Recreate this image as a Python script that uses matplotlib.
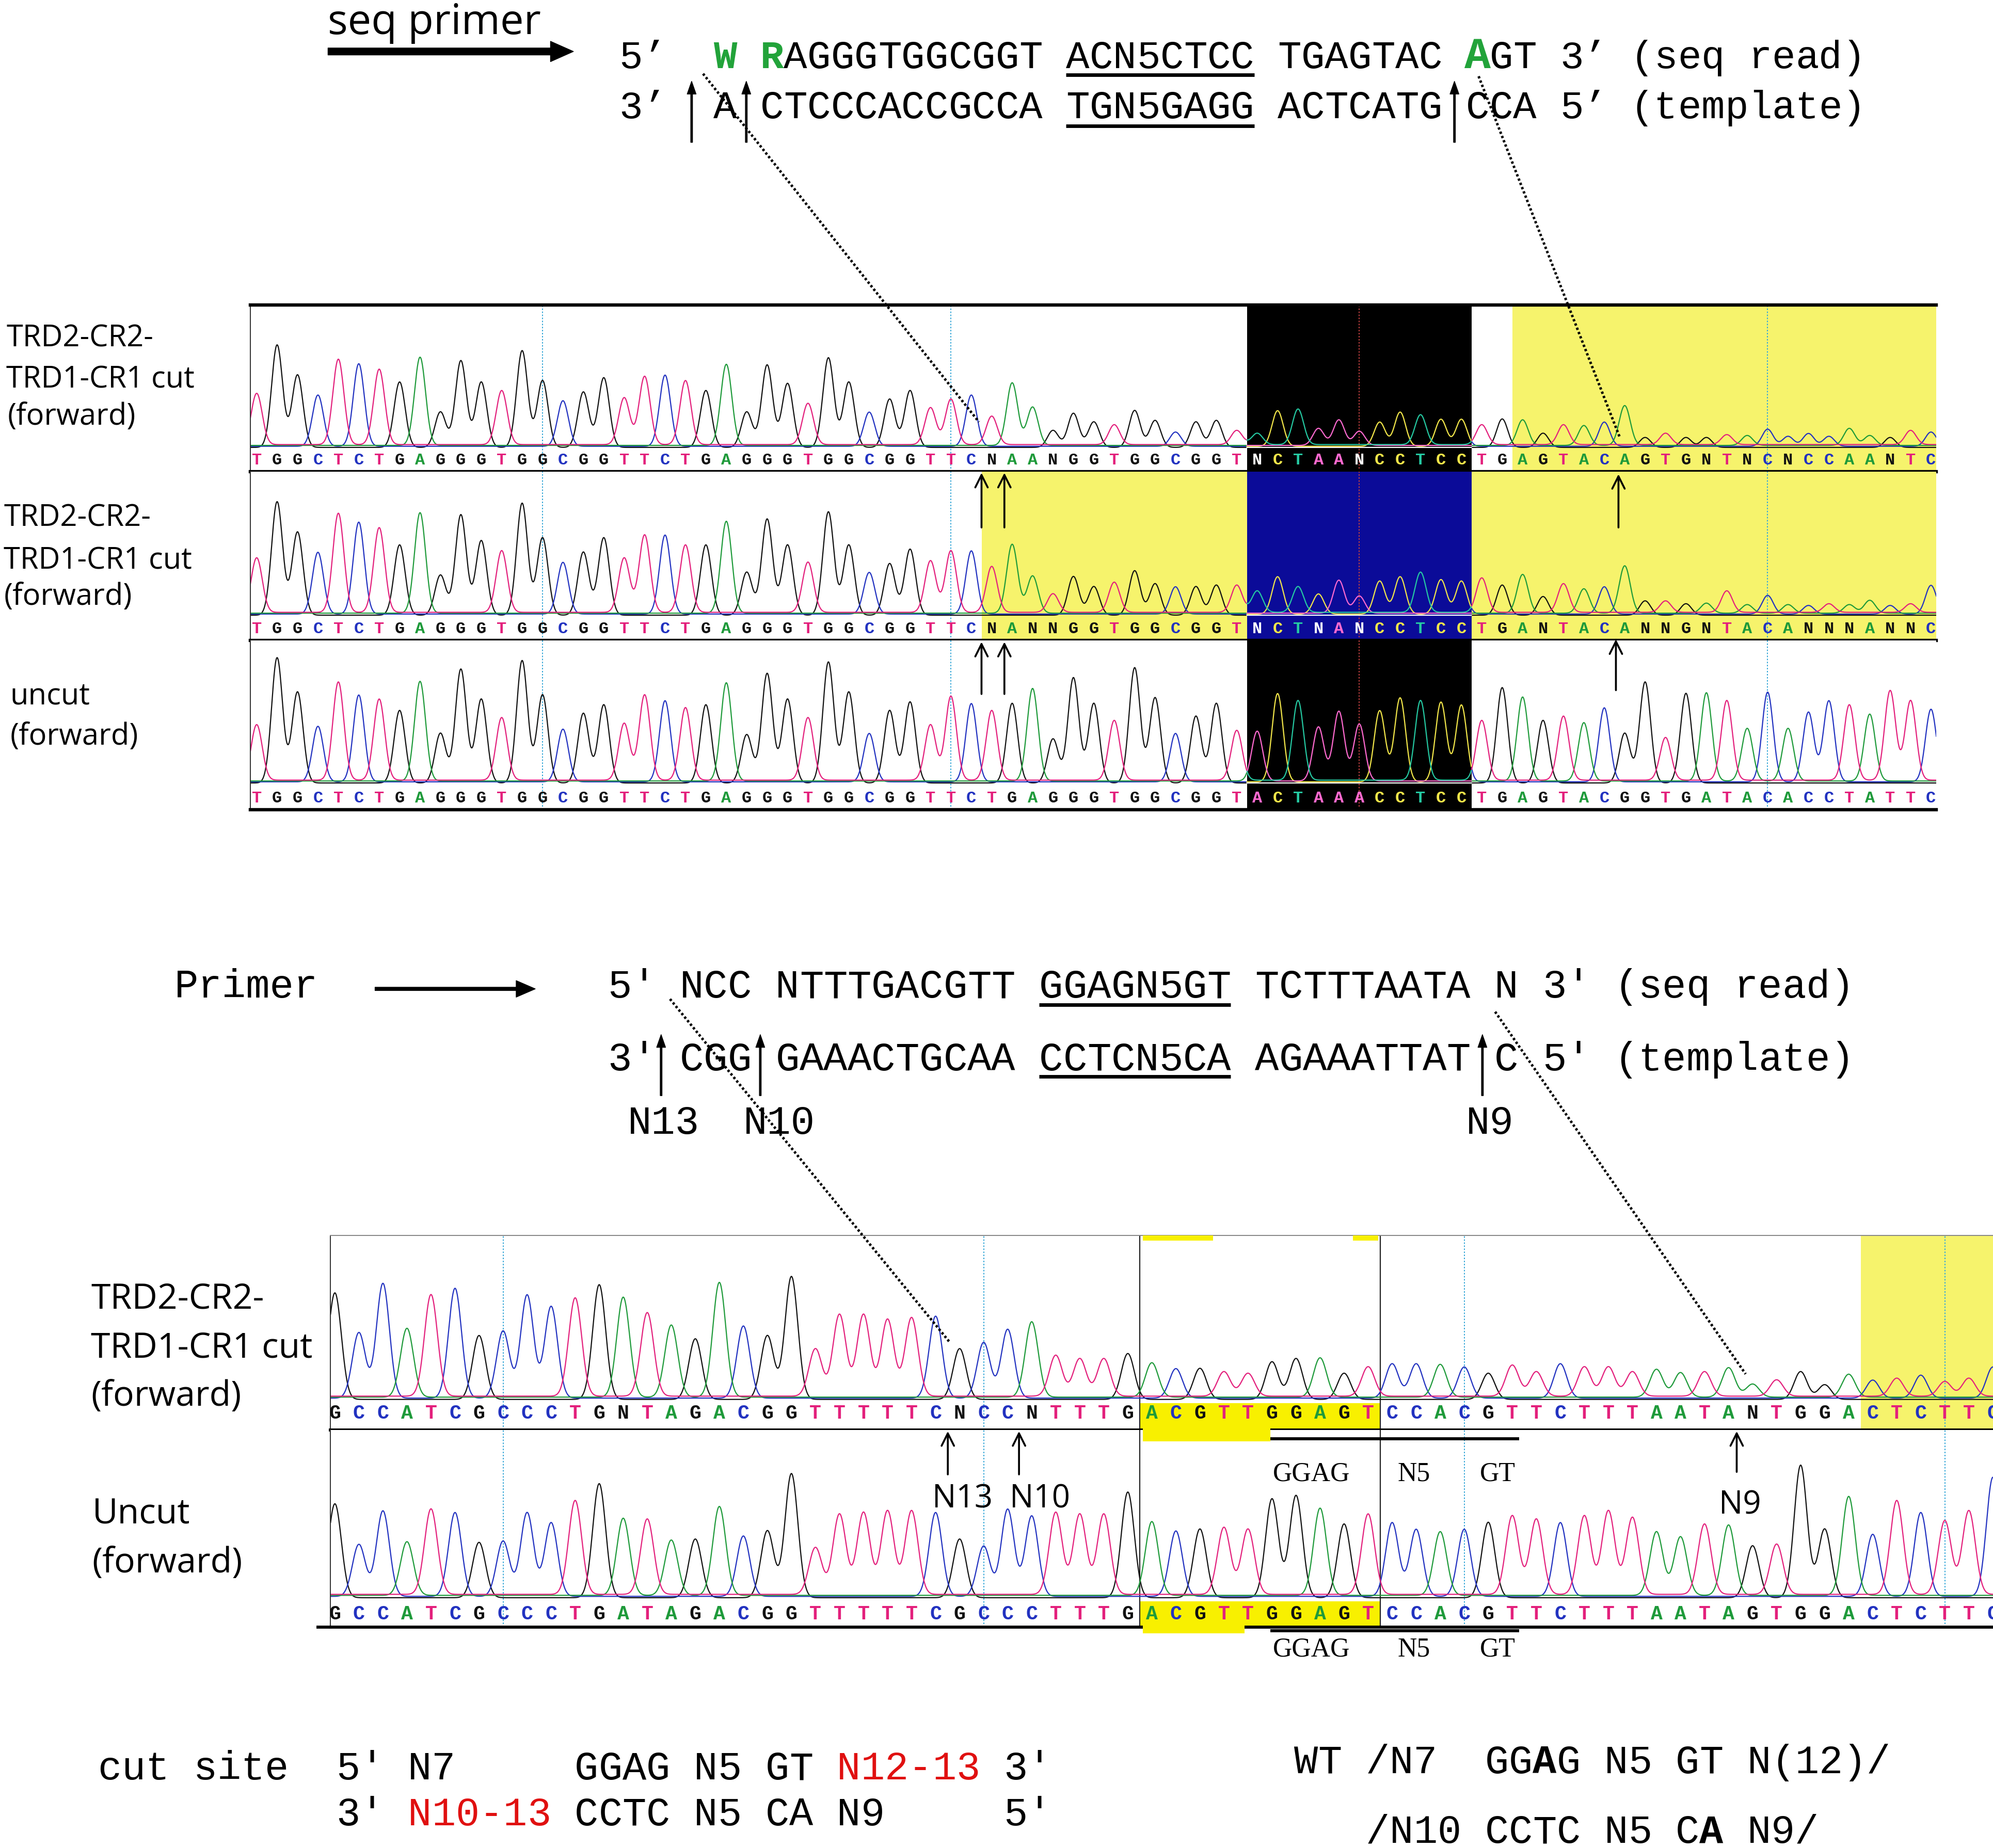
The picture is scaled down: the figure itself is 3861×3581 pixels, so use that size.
import numpy as np
import matplotlib
matplotlib.use("Agg")
import matplotlib.pyplot as plt

# layout is worked out on a 1568-unit wide page, then scaled to the output size
S = 3862 / 1568
W, H = 1568, 3581 / S


def pt(u):
    """layout units -> points (dpi 100)"""
    return u * S * 0.72


# ---------------------------------------------------------------- data
top_head = "TGGCTCTGAGGGTGGCGGTTCTGAGGGTGGCGGTTC"
cut1_seq = top_head + "NAANGGTGGCGGT" + "NCTAANCCTCC" + "TGAGTACAGTGNTNCNCCAANTC"
cut2_seq = top_head + "NANNGGTGGCGGT" + "NCTNANCCTCC" + "TGANTACANNGNTACANNNANNC"
uncut_seq = top_head + "TGAGGGTGGCGGT" + "ACTAAACCTCC" + "TGAGTACGGTGATACACCTATTC"

# peak heights, % of the trace box
cut1_h = [36, 72, 51, 36, 60, 58, 53, 46, 62, 25, 61, 46, 38, 68, 47, 32, 39, 49, 33, 48,
          50, 45, 40, 57, 25, 58, 45, 29, 63, 46, 24, 34, 40, 26, 32, 36,
          20, 44, 27, 12, 24, 18, 14, 26, 19, 10, 18, 19, 10,
          8, 25, 25, 12, 18, 10, 17, 24, 21, 19, 19,
          14, 20, 18, 10, 14, 14, 17, 28, 7, 8, 7, 7, 7, 7, 12, 7, 9, 7, 12, 7, 7, 10, 10]
cut2_h = [38, 79, 58, 43, 69, 64, 59, 49, 70, 28, 70, 52, 43, 78, 54, 36, 44, 54, 38, 54,
          55, 47, 49, 64, 30, 67, 49, 35, 72, 49, 29, 36, 46, 36, 43, 44,
          32, 48, 26, 13, 27, 20, 21, 31, 22, 19, 20, 21, 19,
          15, 26, 18, 14, 23, 12, 23, 26, 28, 24, 23,
          24, 21, 27, 13, 20, 17, 19, 33, 10, 8, 8, 7, 15, 6, 13, 6, 6, 6, 6, 9, 6, 6, 20]
uncut_h = [39, 88, 64, 39, 69, 61, 57, 51, 70, 35, 80, 59, 44, 86, 62, 37, 49, 55, 40, 60,
           57, 51, 55, 69, 34, 77, 59, 44, 85, 64, 34, 51, 57, 39, 59, 55,
           49, 56, 65, 31, 74, 56, 42, 81, 60, 34, 47, 56, 35,
           35, 62, 56, 38, 49, 40, 50, 59, 56, 56, 54,
           42, 67, 59, 44, 45, 41, 52, 35, 71, 30, 63, 62, 56, 37, 63, 37, 49, 57, 53, 47, 63, 56, 51]
# channel of the dominant peak under each N call, in order
cut1_npk = "TGTAGACG"
cut2_npk = "TATTCAGGTACTACT"

low_cut_seq = "GCCATCGCCCTGNTAGACGGTTTTTCNCCNTTTG" + "ACGTTGGAGT" + "CCACGTTCTTTAATANTGGACTCTTC"
low_wt_seq = "GCCATCGCCCTGATAGACGGTTTTTCGCCCTTTG" + "ACGTTGGAGT" + "CCACGTTCTTTAATAGTGGACTCTTC"
low_cut_h = [65, 40, 70, 42, 62, 67, 39, 41, 63, 56, 60, 70, 61, 51, 44, 37, 70, 44, 39, 75,
             29, 50, 50, 47, 48, 50, 31, 34, 42, 46, 25, 23, 23, 28,
             21, 18, 19, 15, 14, 23, 25, 24, 16, 18,
             21, 21, 20, 19, 16, 19, 15, 21, 18, 18, 15, 17, 15, 15, 18, 8, 10, 17, 9, 14,
             11, 11, 14, 9, 11, 19]
low_wt_h = [56, 31, 51, 32, 51, 50, 33, 33, 50, 44, 56, 68, 46, 45, 33, 35, 53, 36, 40, 74,
            28, 48, 49, 50, 50, 50, 35, 30, 52, 48, 49, 48, 48, 63,
            44, 39, 41, 40, 39, 59, 61, 52, 44, 48,
            44, 40, 38, 40, 45, 47, 45, 44, 47, 50, 46, 38, 35, 42, 42, 31, 30, 79, 41, 59,
            37, 56, 50, 44, 50, 71]
low_cut_npk = "AGAA"

top_marks = [14, 34, 54, 74]
low_marks = [7, 27, 47, 67]

# ---------------------------------------------------------------- style
BASE_COL = {'A': '#1e9a3a', 'C': '#2232c0', 'G': '#111111', 'T': '#e3207c', 'N': '#111111'}
DARK_COL = {'A': '#ff6ad0', 'C': '#f2e64a', 'G': '#ffffff', 'T': '#25c9a2', 'N': '#ffffff'}
OFFSET = {'G': 0.0, 'C': 0.008, 'A': 0.014, 'T': 0.02}
YELLOW = '#f6f36c'
BRIGHT = '#f8f000'
MONO = 'Liberation Mono'
SANS = 'Open Sans'
SERIF = 'Liberation Serif'

fig = plt.figure(figsize=(38.62, 35.81), dpi=100)


def chrom(box, seq, hts, npk, first_x, step, shades=(), dark=(), marks=(), red=(),
          rules=(), fsize=13, sigma=0.27):
    left, right, top, base, row, bottom = box
    ax = fig.add_axes([left / W, 1 - bottom / H, (right - left) / W, (bottom - top) / H])
    x0, x1 = (left - first_x) / step, (right - first_x) / step
    y0 = -(bottom - base) / (base - top)
    ax.set_xlim(x0, x1)
    ax.set_ylim(y0, 1)
    ax.set_xticks([])
    ax.set_yticks([])
    for i0, i1, col, ymax in shades:
        ax.axvspan(i0 - 0.5, i1 + 0.5, ymin=0, ymax=ymax, color=col, lw=0, zorder=0)
    for m in marks:
        c = '#c04040' if m in red else '#38a8d8'
        ax.axvline(m, color=c, lw=pt(0.8), ls=(0, (1.5, 1.5)), zorder=1)
    for r in rules:
        ax.axvline(r, color='#222222', lw=pt(0.9), zorder=1)

    chans = []
    it = iter(npk)
    for b in seq:
        chans.append(next(it) if b == 'N' else b)
    idx = np.arange(len(seq))
    hts = np.asarray(hts) / 100.0
    xs = np.linspace(x0, x1, 5000)
    in_dark = np.zeros_like(xs, dtype=bool)
    for i0, i1 in dark:
        in_dark |= (xs >= i0 - 0.5) & (xs <= i1 + 0.5)
    for c in 'GCAT':
        sel = np.array([ch == c for ch in chans])
        ys = np.zeros_like(xs) + OFFSET[c]
        for i, h in zip(idx[sel], hts[sel]):
            ys += h * np.exp(-(xs - i) ** 2 / (2 * sigma ** 2))
        ax.plot(xs, np.where(in_dark, np.nan, ys), color=BASE_COL[c], lw=pt(0.9), zorder=2)
        if dark:
            ax.plot(xs, np.where(in_dark, ys, np.nan), color=DARK_COL[c], lw=pt(0.9), zorder=2)

    ly = (base - row) / (base - top)
    for i, b in enumerate(seq):
        d = any(i0 <= i <= i1 for i0, i1 in dark)
        col = (DARK_COL if d else BASE_COL)[b]
        ax.text(i, ly, b, color=col, ha='center', va='center', family=MONO,
                fontsize=pt(fsize), weight='bold', zorder=3, clip_on=True)
    for s in ax.spines.values():
        s.set_visible(False)
    return ax


def thick(ax, side, w, col='k'):
    ax.spines[side].set_visible(True)
    ax.spines[side].set_linewidth(pt(w))
    ax.spines[side].set_color(col)


# ---------------------------------------------------------------- top chromatograms
TX0, TDX = 201.9, 16.06
p1 = chrom((197, 1523, 240, 352, 362, 371), cut1_seq, cut1_h, cut1_npk, TX0, TDX,
           shades=[(49, 59, 'black', 1), (62, 83, YELLOW, 1)], dark=[(49, 59)],
           marks=top_marks, red=[54])
p2 = chrom((197, 1523, 371, 484, 495, 504), cut2_seq, cut2_h, cut2_npk, TX0, TDX,
           shades=[(36, 48, YELLOW, 1), (49, 59, '#0b0b98', 1), (60, 83, YELLOW, 1)],
           dark=[(49, 59)], marks=top_marks, red=[54])
p3 = chrom((197, 1523, 504, 616, 628, 637), uncut_seq, uncut_h, "", TX0, TDX,
           shades=[(49, 59, 'black', 1)], dark=[(49, 59)], marks=top_marks, red=[54])
thick(p1, 'top', 2.6)
for a in (p1, p2, p3):
    thick(a, 'bottom', 2.6)
    thick(a, 'left', 0.8, '#333333')

# ---------------------------------------------------------------- lower chromatograms
LX0, LDX = 263.4, 18.9
row_a = (1125 - 1104) / (1125 - 972)
row_b = (1280 - 1260) / (1280 - 1125)
pa = chrom((260, W, 972, 1101, 1112, 1125), low_cut_seq, low_cut_h, low_cut_npk, LX0, LDX,
           shades=[(34, 43, BRIGHT, row_a), (64, 70, YELLOW, 1)],
           marks=low_marks, rules=[33.5, 43.5], fsize=15.5)
pb = chrom((260, W, 1125, 1257, 1270, 1280), low_wt_seq, low_wt_h, "", LX0, LDX,
           shades=[(34, 43, BRIGHT, row_b)],
           marks=low_marks, rules=[33.5, 43.5], fsize=15.5)
thick(pa, 'top', 0.8, '#888888')
for a in (pa, pb):
    thick(a, 'bottom', 2.4)
    thick(a, 'left', 0.8, '#333333')

# ---------------------------------------------------------------- overlay for text & arrows
ov = fig.add_axes([0, 0, 1, 1])
ov.set_xlim(0, W)
ov.set_ylim(H, 0)
ov.axis('off')
ov.set_zorder(10)


def mono(x0, y, text, cw, size=None, colors=None, bold=(), big=()):
    size = size or cw / 0.6
    for i, ch in enumerate(text):
        if ch == ' ':
            continue
        col = (colors or {}).get(i, 'k')
        ov.text(x0 + (i + 0.5) * cw, y, ch, ha='center', va='baseline', family=MONO,
                fontsize=pt(size * (1.12 if i in big else 1.0)), color=col,
                weight='bold' if i in bold else 'normal')


def uline(x0, cw, i0, i1, y, lw=2.8):
    ov.plot([x0 + i0 * cw, x0 + (i1 + 1) * cw], [y, y], color='k', lw=pt(lw),
            solid_capstyle='butt')


def solid_arrow(x, y0, y1, lw=1.4, hw=7, hl=10):
    ov.annotate('', xy=(x, y1), xytext=(x, y0),
                arrowprops=dict(width=pt(lw), headwidth=pt(hw), headlength=pt(hl),
                                color='k', shrink=0))


def open_arrow(x, y0, y1):
    ov.annotate('', xy=(x, y1), xytext=(x, y0),
                arrowprops=dict(arrowstyle='->,head_length=0.7,head_width=0.35',
                                color='k', lw=pt(1.5), mutation_scale=pt(14),
                                shrinkA=0, shrinkB=0))


def dotted(p, q):
    ov.plot([p[0], q[0]], [p[1], q[1]], color='k', lw=pt(2.0), ls=(0, (0.9, 0.9)))


GREEN = '#22a33a'
# seq primer
ov.text(258, 18, "seq primer", family=SANS, fontsize=pt(33), ha='left', va='center')
ov.annotate('', xy=(451, 40.5), xytext=(258, 40.5),
            arrowprops=dict(width=pt(5.5), headwidth=pt(16), headlength=pt(18),
                            color='k', shrink=0))
cw1 = 18.5
mono(487, 53.5, "5\u2019  W RAGGGTGGCGGT ACN5CTCC TGAGTAC AGT 3\u2019 (seq read)", cw1,
     colors={4: GREEN, 6: GREEN, 36: GREEN}, bold=(4, 6, 36), big=(36,))
mono(487, 93, "3\u2019  A CTCCCACCGCCA TGN5GAGG ACTCATG CCA 5\u2019 (template)", cw1)
uline(487, cw1, 19, 26, 59)
uline(487, cw1, 19, 26, 99)
for x in (544, 587, 1144):
    solid_arrow(x, 112, 64)
dotted((553, 58), (770, 332))
dotted((1163, 60), (1274, 344))

# left labels, top section
for x, y, s in [(5, 272.7, "TRD2-CR2-"), (5, 305, "TRD1-CR1 cut"), (6, 334, "(forward)"),
                (3, 414, "TRD2-CR2-"), (3, 447.5, "TRD1-CR1 cut"), (3, 476, "(forward)"),
                (8, 554, "uncut"), (8, 586, "(forward)")]:
    ov.text(x, y, s, family=SANS, fontsize=pt(23.5), ha='left', va='baseline')

# arrows on the top chromatograms
for x in (772, 790):
    open_arrow(x, 415, 372)
    open_arrow(x, 546, 505)
open_arrow(1273, 415, 373)
open_arrow(1271, 543, 503)

# lower text block
cw2 = 18.85
ov.text(137, 785, "Primer", family=MONO, fontsize=pt(cw2 / 0.6), ha='left', va='baseline')
ov.annotate('', xy=(421, 778), xytext=(295, 778),
            arrowprops=dict(width=pt(2.6), headwidth=pt(13), headlength=pt(15),
                            color='k', shrink=0))
mono(478, 785, "5' NCC NTTTGACGTT GGAGN5GT TCTTTAATA N 3' (seq read)", cw2)
mono(478, 842, "3' CGG GAAACTGCAA CCTCN5CA AGAAATTAT C 5' (template)", cw2)
uline(478, cw2, 18, 25, 790.5)
uline(478, cw2, 18, 25, 847)
for x in (520, 598, 1166):
    solid_arrow(x, 862, 814)
for x, s in [(522, "N13"), (613, "N10"), (1172, "N9")]:
    ov.text(x, 892, s, family=MONO, fontsize=pt(cw2 / 0.6), ha='center', va='baseline')
dotted((527, 786), (747, 1056))
dotted((1176, 796), (1373, 1081))

# left labels, lower section
for x, y, s in [(71.6, 1029.5, "TRD2-CR2-"), (71.6, 1068, "TRD1-CR1 cut"),
                (71.6, 1106, "(forward)"), (72.5, 1198.7, "Uncut"), (72.5, 1237, "(forward)")]:
    ov.text(x, y, s, family=SANS, fontsize=pt(27.6), ha='left', va='baseline')

# yellow smears left over from the highlight
ov.add_patch(plt.Rectangle((899, 1122), 100, 12, color=BRIGHT, lw=0, zorder=0))
ov.add_patch(plt.Rectangle((899, 1278), 80, 7, color=BRIGHT, lw=0, zorder=0))
ov.add_patch(plt.Rectangle((899, 972), 55, 4, color=BRIGHT, lw=0, zorder=0))
ov.add_patch(plt.Rectangle((1064, 972), 20, 4, color=BRIGHT, lw=0, zorder=0))

# arrows and labels inside the lower chromatograms
open_arrow(745.5, 1160, 1126)
open_arrow(801.5, 1160, 1126)
open_arrow(1366, 1158, 1126)
for x, y, s in [(757, 1186, "N13"), (818, 1186, "N10"), (1368.5, 1191, "N9")]:
    ov.text(x, y, s, family=SANS, fontsize=pt(25), ha='center', va='baseline')
ov.plot([250, 260], [1280, 1280], color='k', lw=pt(2.4))
for yl, yt in [(1131.8, 1165), (1283, 1303)]:
    ov.plot([999, 1195], [yl, yl], color='k', lw=pt(2.4), solid_capstyle='butt')
    for x, s in [(1031.6, "GGAG"), (1112.3, "N5"), (1177.9, "GT")]:
        ov.text(x, yt, s, family=SERIF, fontsize=pt(21), ha='center', va='baseline')

# cut-site summary
RED = '#e01010'
cw3 = 18.75
mono(77, 1400, "cut site  5' N7     GGAG N5 GT N12-13 3'", cw3,
     colors={i: RED for i in range(31, 37)})
mono(77, 1436, "          3' N10-13 CCTC N5 CA N9     5'", cw3,
     colors={i: RED for i in range(13, 19)})
mono(1018, 1395, "WT /N7  GGAG N5 GT N(12)/", cw3, bold=(10,))
mono(1018, 1450, "   /N10 CCTC N5 CA N9/", cw3, bold=(17,))

fig.savefig("out.png", dpi=100, facecolor='white')
